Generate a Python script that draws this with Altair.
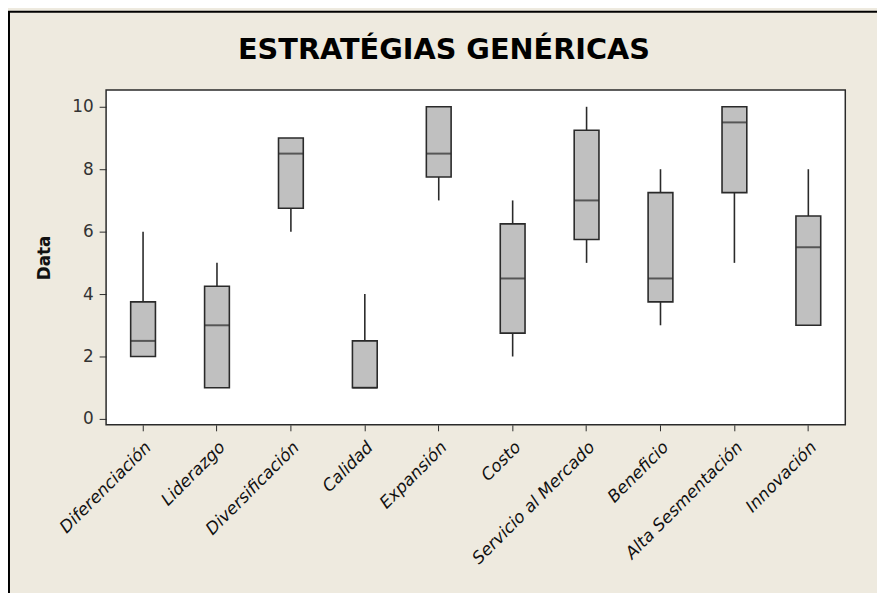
import altair as alt
import pandas as pd

categories = ["Diferenciación", "Liderazgo", "Diversificación", "Calidad", "Expansión",
              "Costo", "Servicio al Mercado", "Beneficio", "Alta Sesmentación", "Innovación"]
mins = [2, 1, 6, 1, 7, 2, 5, 3, 5, 3]
q1 = [2, 1, 6.75, 1, 7.75, 2.75, 5.75, 3.75, 7.25, 3]
medians = [2.5, 3, 8.5, 1, 8.5, 4.5, 7, 4.5, 9.5, 5.5]
q3 = [3.75, 4.25, 9, 2.5, 10, 6.25, 9.25, 7.25, 10, 6.5]
maxs = [6, 5, 9, 4, 10, 7, 10, 8, 10, 8]

df = pd.DataFrame({"cat": categories, "mn": mins, "q1": q1, "med": medians, "q3": q3, "mx": maxs})

BG = "#EEEADF"
INK = "#2a2a2a"

x = alt.X("cat:N", sort=categories, title=None,
          scale=alt.Scale(paddingInner=0, paddingOuter=0),
          axis=alt.Axis(labelAngle=-45, labelFont="DejaVu Sans", labelFontStyle="italic",
                        labelFontSize=17, labelColor="#111", tickColor=INK, tickSize=6,
                        domain=False, labelPadding=8))
yscale = alt.Scale(domain=[-0.19, 10.54], nice=False, zero=False)
yaxis = alt.Axis(values=[0, 2, 4, 6, 8, 10], grid=False, title="Data", titleFont="DejaVu Sans",
                 titleFontSize=17, titleFontWeight="bold", titleColor="#111", titlePadding=18,
                 labelFont="DejaVu Sans", labelFontSize=17, labelColor="#333", tickColor=INK,
                 tickSize=7, domain=False, labelPadding=6)

base = alt.Chart(df)

lower = base.mark_rule(color=INK, strokeWidth=1.6).encode(
    x=x, y=alt.Y("mn:Q", scale=yscale, axis=yaxis), y2="q1:Q")
upper = base.mark_rule(color=INK, strokeWidth=1.6).encode(
    x=x, y=alt.Y("q3:Q", scale=yscale, axis=yaxis), y2="mx:Q")
box = base.mark_bar(size=25, fill="#C0C0C0", stroke=INK, strokeWidth=1.6).encode(
    x=x, y=alt.Y("q1:Q", scale=yscale, axis=yaxis), y2="q3:Q")
med = base.mark_tick(size=25, thickness=2, color=INK, orient="horizontal").encode(
    x=x, y=alt.Y("med:Q", scale=yscale, axis=yaxis))

frame_left = alt.Chart(pd.DataFrame({"k": [0]})).mark_rule(color="#000", strokeWidth=2, clip=False).encode(
    x=alt.value(-98), y=alt.value(-79), y2=alt.value(520))
frame_top = alt.Chart(pd.DataFrame({"k": [0]})).mark_rule(color="#000", strokeWidth=2, clip=False).encode(
    x=alt.value(-99), x2=alt.value(800), y=alt.value(-79))

chart = alt.layer(lower, upper, box, med, frame_left, frame_top).properties(
    width=746, height=338,
    background=BG,
    padding={"left": 99, "top": 80, "right": 32, "bottom": 167},
    autosize=alt.AutoSizeParams(type="none"),
    title=alt.TitleParams("ESTRATÉGIAS GENÉRICAS", font="DejaVu Sans", fontSize=29,
                          fontWeight="bold", color="#000", anchor="middle", dx=-32, dy=106,
                          offset=28, baseline="alphabetic", frame="group"),
).configure_view(fill="white", stroke=INK, strokeWidth=1.5)

chart.save("out.html", embed_options={"renderer": "svg", "actions": False})
